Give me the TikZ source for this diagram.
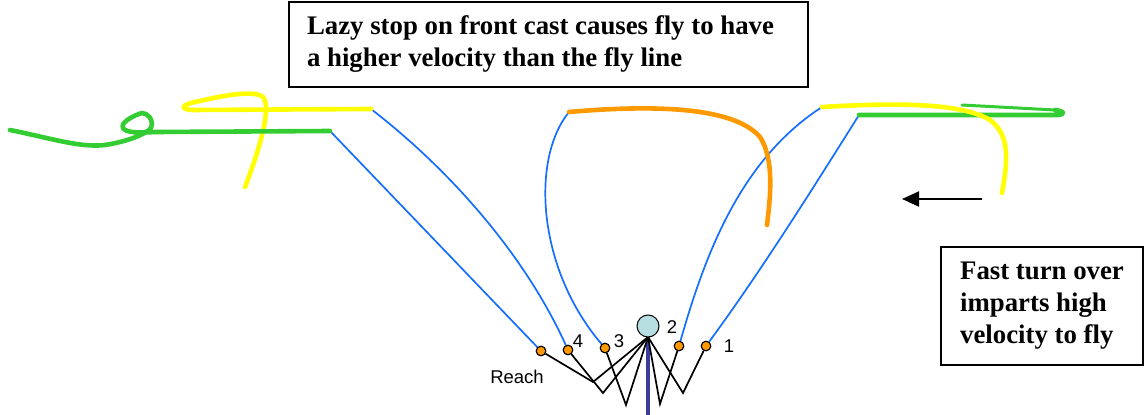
\documentclass[tikz,border=0pt]{standalone}
\usepackage{fontspec}
\setmainfont{Liberation Serif}
\newfontfamily\labfont{Liberation Sans}
\usetikzlibrary{arrows.meta}
\definecolor{flyblue}{RGB}{20,110,255}
\definecolor{flyyellow}{RGB}{255,255,0}
\definecolor{flygreen}{RGB}{51,204,51}
\definecolor{flyorange}{RGB}{255,153,0}
\definecolor{rodblue}{RGB}{60,60,160}
\definecolor{ballcyan}{RGB}{183,222,224}
\tikzset{
  textbox/.style={draw=black,line width=1.6pt,fill=white,align=left,inner sep=0pt,
    font=\fontsize{26.8}{32}\selectfont\bfseries},
  dotnode/.style={circle,draw=black,line width=1pt,fill=flyorange,minimum size=9.5pt,inner sep=0pt},
  ballnode/.style={circle,draw=black,line width=1pt,fill=ballcyan,minimum size=22pt,inner sep=0pt},
  numlabel/.style={font=\labfont\fontsize{18.5}{18.5}\selectfont,inner sep=0pt},
  rodline/.style={flyblue,line width=1.7pt},
  arm/.style={black,line width=1.7pt},
  flyline/.style={line width=4.6pt,line cap=round,line join=round},
}
\begin{document}
\begin{tikzpicture}[x=1pt,y=-1pt]
\useasboundingbox (0,0) rectangle (1144,415);
% boxes
\node[textbox,minimum width=519pt,minimum height=85pt] (topbox) at (548.5,44.5)
  {Lazy stop on front cast causes fly to have\hspace*{16pt}\\a higher velocity than the fly line};
\node[textbox,minimum width=202pt,minimum height=118pt] (rightbox) at (1042,306)
  {Fast turn over\\imparts high\\velocity to fly};
% ends of the fly lines
\coordinate (g0) at (330,131);
\coordinate (y4) at (371,109);
\coordinate (o3) at (569,112);
\coordinate (y2) at (822,107);
\coordinate (g1) at (859,115);
% rod, arms
\coordinate (pivot) at (648,337);
\coordinate (butt) at (648,415);
\coordinate (e0) at (593,382);
\coordinate (e4) at (603,393);
\coordinate (e3) at (626,405);
\coordinate (e2) at (660,404);
\coordinate (e1) at (683,393);
\draw[rodblue,line width=4.5pt] (pivot) -- (butt);
\node[dotnode] (d0) at (541,351) {};
\node[dotnode] (d4) at (568,350) {};
\node[dotnode] (d3) at (605,348) {};
\node[dotnode] (d2) at (679,346) {};
\node[dotnode] (d1) at (706,346) {};
\draw[arm] (d0) -- (e0) -- (pivot);
\draw[arm] (d4) -- (e4) -- (pivot);
\draw[arm] (d3) -- (e3) -- (pivot);
\draw[arm] (d2) -- (e2) -- (pivot);
\draw[arm] (d1) -- (e1) -- (pivot);
\node[ballnode] (ball) at (648,326) {};
% blue lines (rod positions)
\draw[rodline] (d0) -- (g0);
\draw[rodline] (d4) .. controls (525,255) and (450,170) .. (y4);
\draw[rodline] (d3) .. controls (538,270) and (530,160) .. (o3);
\draw[rodline] (d2) .. controls (705,255) and (740,160) .. (y2);
\draw[rodline] (d1) .. controls (759,274) and (810,193) .. (g1);
% re-draw dots above lines
\foreach \d in {d0,d4,d3,d2,d1} \node[dotnode] at (\d) {};
% labels
\node[numlabel] (l4) at (578,341) {4};
\node[numlabel] (l3) at (619,341) {3};
\node[numlabel] (l2) at (672,327) {2};
\node[numlabel] (l1) at (729,346) {1};
\node[numlabel] (lreach) at (517,377) {Reach};
% left fly lines
\draw[flyline,flyyellow] (y4) -- (192,110) .. controls (178,109) and (182,104) .. (200,101)
  .. controls (225,95) and (255,90) .. (263,97) .. controls (270,105) and (265,135) .. (245,187);
\draw[flyline,flygreen] (10,130) .. controls (50,138) and (80,148) .. (105,145)
  .. controls (125,142) and (145,135) .. (151,128) .. controls (154,120) and (148,113) .. (142,113)
  .. controls (135,115) and (120,122) .. (123,128) .. controls (126,133) and (140,133) .. (155,132) -- (g0);
% middle fly line
\draw[flyline,flyorange] (o3) .. controls (660,104) and (735,108) .. (760,137)
  .. controls (775,160) and (770,200) .. (767,225);
% right fly lines
\draw[flyline,flygreen] (g1) -- (1058,115) .. controls (1066,114) and (1064,111) .. (1055,110);
\draw[flygreen,line width=3pt,line cap=round] (1055,110) -- (962,105);
\draw[flyline,flyyellow] (y2) .. controls (890,103) and (960,102) .. (990,120)
  .. controls (1010,135) and (1008,160) .. (1002,193);
% arrow
\coordinate (atail) at (982,199);
\coordinate (ahead) at (902,199);
\draw[black,line width=2pt,-{Triangle[length=17pt,width=15pt]}] (atail) -- (ahead);
\end{tikzpicture}
\end{document}
